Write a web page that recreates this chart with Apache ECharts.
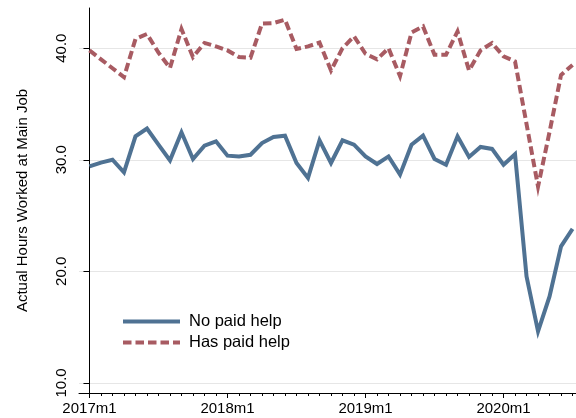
<!DOCTYPE html>
<html>
<head>
<meta charset="utf-8">
<script src="https://cdn.jsdelivr.net/npm/echarts@6/dist/echarts.min.js"></script>
<style>
  html, body { margin: 0; padding: 0; background: #fff; }
  #chart { width: 576px; height: 418px; }
</style>
</head>
<body>
<div id="chart"></div>
<script>
// Monthly index: 0 = 2017m1 ... 42 = 2020m7
const tickMonths = [0, 12, 24, 36];
const tickLabels = ['2017m1', '2018m1', '2019m1', '2020m1'];
const yTicks = [10, 20, 30, 40];

// Actual hours worked at main job, by month
const noPaidHelp = [
  29.4, 29.75, 30.0, 28.87, 32.1, 32.8, 31.35, 29.95, 32.46, 30.07, 31.26, 31.65,
  30.37, 30.3, 30.45, 31.5, 32.04, 32.16, 29.71, 28.37, 31.74, 29.71, 31.74, 31.35,
  30.3, 29.62, 30.3, 28.67, 31.35, 32.16, 30.07, 29.56, 32.1, 30.25, 31.15, 30.97,
  29.56, 30.5, 19.55, 14.62, 17.76, 22.24, 23.8
];
const hasPaidHelp = [
  39.8, 39.0, 38.2, 37.4, 40.82, 41.27, 39.6, 38.22, 41.72, 39.2, 40.47, 40.16,
  39.8, 39.2, 39.15, 42.2, 42.25, 42.55, 39.93, 40.16, 40.5, 38.0, 40.0, 41.06,
  39.5, 39.0, 40.0, 37.5, 41.4, 41.95, 39.4, 39.4, 41.5, 38.0, 39.8, 40.46,
  39.27, 38.82, 33.2, 27.6, 32.5, 37.6, 38.5
];

const xMin = -0.91, xMax = 42.3;
const minorTicks = [];
for (let m = 0; m <= Math.floor(xMax); m++) minorTicks.push(m);

const FONT = '"Liberation Sans", Arial, sans-serif';
const BLUE = '#4f7293';
const RED = '#a85b62';

const chart = echarts.init(document.getElementById('chart'), null, { renderer: 'canvas' });

chart.setOption({
  animation: false,
  backgroundColor: '#fff',
  textStyle: { fontFamily: FONT },
  grid: { left: 79, top: 8, right: 0, bottom: 25, containLabel: false },
  legend: {
    orient: 'vertical',
    left: 121,
    top: 313,
    padding: 0,
    itemWidth: 57,
    itemHeight: 14,
    itemGap: 4,
    // line-only keys: hide the marker drawn on top of the line sample
    itemStyle: { color: 'rgba(0,0,0,0)', borderWidth: 0, opacity: 0 },
    lineStyle: { width: 4 },
    textStyle: { fontFamily: FONT, fontSize: 16.5, color: '#000', padding: [0, 0, 0, 4] },
    data: ['No paid help', 'Has paid help']
  },
  xAxis: [
    {
      type: 'value',
      min: xMin,
      max: xMax,
      axisLine: { show: true, lineStyle: { color: '#000', width: 1 } },
      axisTick: { show: true, customValues: tickMonths, length: 5, lineStyle: { color: '#000', width: 1 } },
      axisLabel: {
        customValues: tickMonths,
        formatter: v => tickLabels[tickMonths.indexOf(Math.round(v))] || '',
        fontFamily: FONT, fontSize: 15, color: '#000', margin: 8
      },
      splitLine: { show: false }
    },
    {
      type: 'value',
      min: xMin,
      max: xMax,
      position: 'bottom',
      axisLine: { show: false },
      axisTick: { show: true, customValues: minorTicks, length: 3, lineStyle: { color: '#000', width: 1 } },
      axisLabel: { show: false },
      splitLine: { show: false }
    }
  ],
  yAxis: {
    type: 'value',
    min: 9.1,
    max: 43.6,
    name: 'Actual Hours Worked at Main Job',
    nameLocation: 'middle',
    nameGap: 49,
    nameTextStyle: { fontFamily: FONT, fontSize: 15, color: '#000' },
    axisLine: { show: true, lineStyle: { color: '#000', width: 1 } },
    axisTick: { show: true, customValues: yTicks, length: 6, lineStyle: { color: '#000', width: 1 } },
    axisLabel: {
      customValues: yTicks,
      rotate: 90,
      formatter: v => Number(v).toFixed(1),
      fontFamily: FONT, fontSize: 15, color: '#000', margin: 10
    },
    splitLine: { show: true, lineStyle: { color: '#e6e6e6', width: 1 } }
  },
  series: [
    {
      name: 'No paid help',
      type: 'line',
      data: noPaidHelp.map((v, i) => [i, v]),
      symbol: 'none',
      lineStyle: { color: BLUE, width: 4, join: 'miter' },
      itemStyle: { color: BLUE },
      z: 3
    },
    {
      name: 'Has paid help',
      type: 'line',
      data: hasPaidHelp.map((v, i) => [i, v]),
      symbol: 'none',
      lineStyle: { color: RED, width: 4, type: [8.5, 4], cap: 'butt', join: 'miter' },
      itemStyle: { color: RED },
      z: 2
    }
  ]
});
</script>
</body>
</html>
